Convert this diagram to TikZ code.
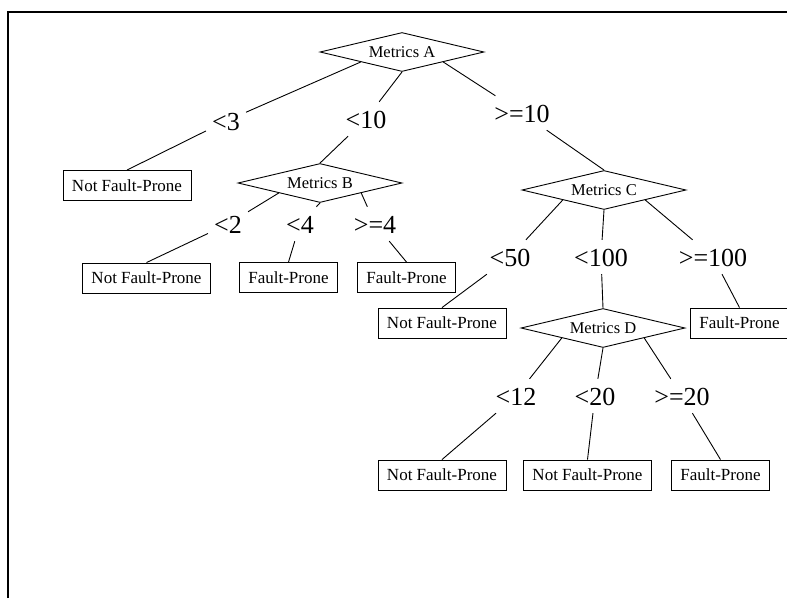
\documentclass[tikz,border=0pt]{standalone}
\usepackage{fontspec}
\setmainfont{Liberation Serif}
\usepackage{tikz}
\usetikzlibrary{shapes.geometric}

\tikzset{
  metric/.style={draw, shape=diamond, aspect=4.2, minimum width=164pt, minimum height=39pt, inner sep=0pt, line width=0.9pt, font=\fontsize{16.5}{19}\selectfont},
  leaf/.style={draw, rectangle, minimum height=30pt, inner xsep=9pt, inner ysep=0pt, line width=0.9pt, font=\fontsize{17}{20}\selectfont},
  cond/.style={inner xsep=6pt, inner ysep=8pt, text height=18pt, text depth=0pt, font=\fontsize{26}{30}\selectfont},
  branch/.style={black, line width=0.9pt}
}

\begin{document}
\begin{tikzpicture}[x=1pt,y=-1pt]
\useasboundingbox (0,0) rectangle (787,598);
\draw [black, line width=2pt] (8,598) -- (8,12) -- (787,12);

% metrics
\node [metric] (mA) at (402,52) {Metrics A};
\node [metric] (mB) at (320,183) {Metrics B};
\node [metric] (mC) at (604,190) {Metrics C};
\node [metric] (mD) at (603,328) {Metrics D};

% conditions
\foreach \n/\x/\y/\t in {l3/226/121/{<3}, l10/366/119/{<10}, lge10/522/113/{>=10},
    l2/228/224/{<2}, l4/300/224/{<4}, lge4/375/224/{>=4},
    l50/510/257/{<50}, l100/601/257/{<100}, lge100/713/257/{>=100},
    l12/516/396/{<12}, l20/595/396/{<20}, lge20/682/396/{>=20}}
  \node [cond] (\n) at (\x,\y) {\t};

% leaves
\foreach \n/\x/\y/\t in {b1/127/185.5/{Not Fault-Prone}, b2/146.5/278/{Not Fault-Prone},
    b3/288.5/277.5/{Fault-Prone}, b4/406.5/277.5/{Fault-Prone},
    b5/442/323/{Not Fault-Prone}, b6/739.5/323/{Fault-Prone},
    b7/442/475/{Not Fault-Prone}, b8/587.5/475/{Not Fault-Prone}, b9/720.5/475/{Fault-Prone}}
  \node [leaf] (\n) at (\x,\y) {\t};

% branches
\foreach \a/\b in {mA.south west/l3, mA.south/l10, mA.south east/lge10,
    l10/mB.north, lge10/mC.north,
    mB.south west/l2, mB.south/l4, mB.south east/lge4,
    mC.south west/l50, mC.south/l100, mC.south east/lge100,
    l100/mD.north,
    mD.south west/l12, mD.south/l20, mD.south east/lge20}
  \draw [branch] (\a) -- (\b);

\foreach \a/\b in {l3/b1, l2/b2, l4/b3, lge4/b4, l50/b5, lge100/b6, l12/b7, l20/b8, lge20/b9}
  \draw [branch] (\a) -- (\b.north);
\end{tikzpicture}
\end{document}
